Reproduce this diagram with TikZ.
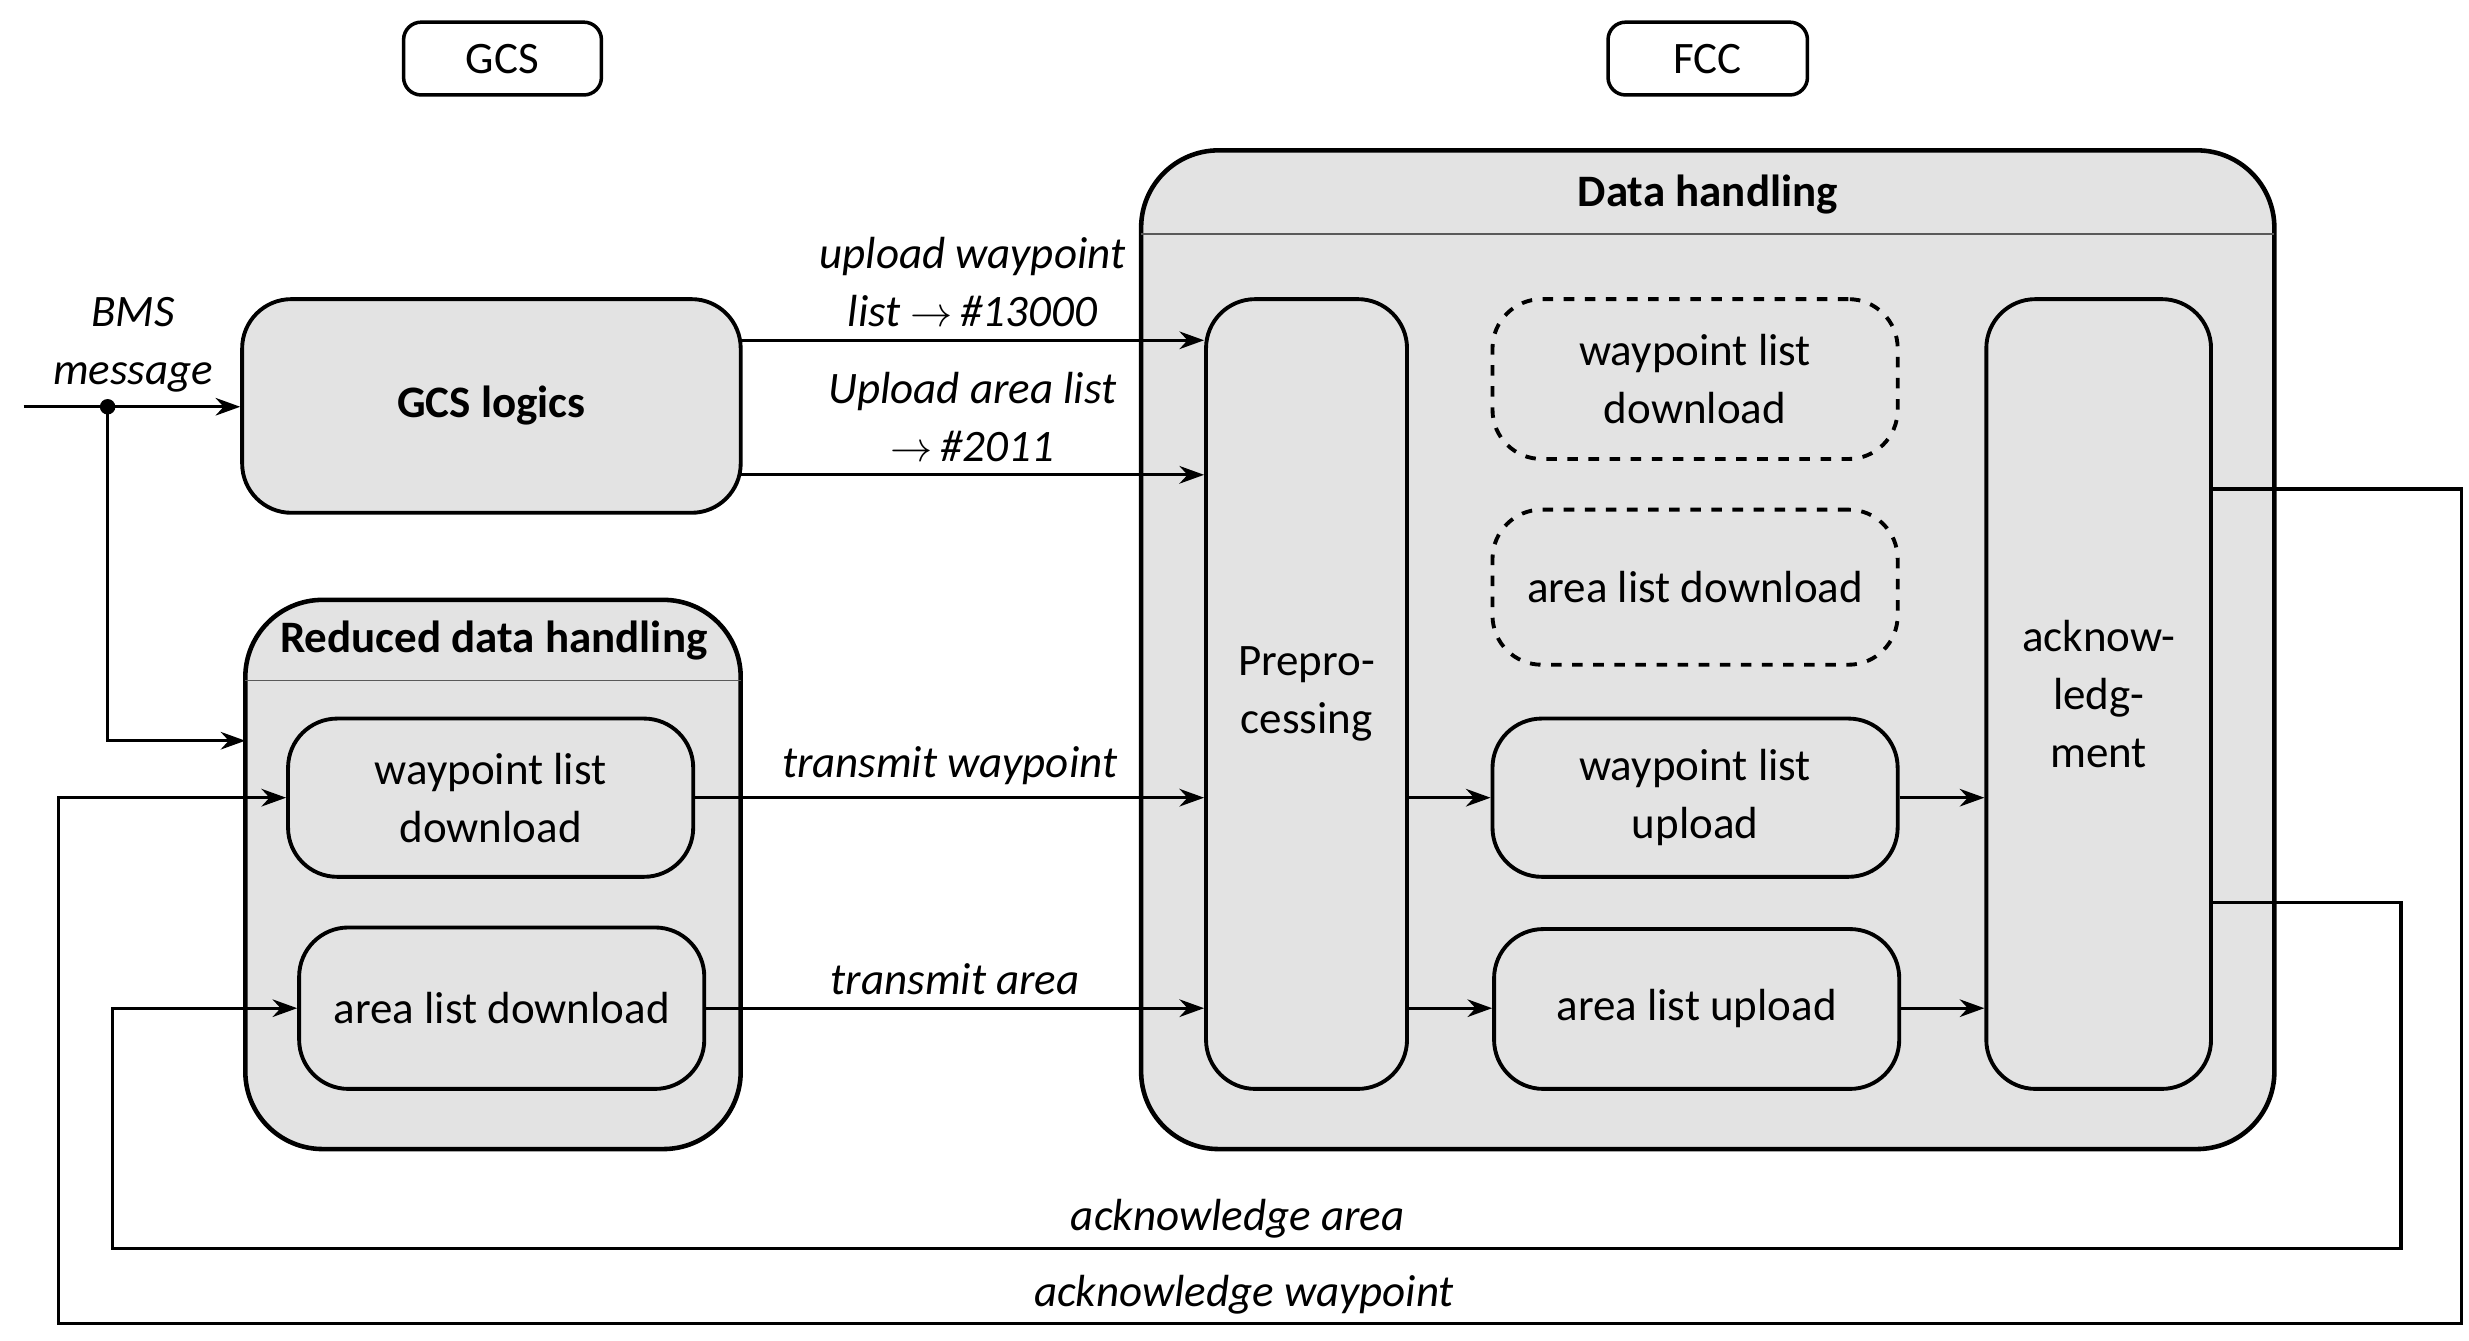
\documentclass[tikz,border=0pt]{standalone}
\usepackage{fontspec}
\setmainfont{Carlito}
\usetikzlibrary{fit,arrows.meta}
\begin{document}
\begin{tikzpicture}[x=0.01583cm,y=-0.01583cm,
  font=\fontsize{12.8pt}{16.5pt}\selectfont,
  txt/.style={label={[align=center,font=\fontsize{12.8pt}{16.5pt}\selectfont]center:#1}},
  btxt/.style={label={[align=center,font=\fontsize{12.8pt}{16.5pt}\selectfont\bfseries]center:#1}},
  box/.style={draw,line width=1.1pt,rounded corners=14pt,fill=gray!22,inner sep=0pt},
  big/.style={draw,line width=1.3pt,rounded corners=22pt,fill=gray!22,inner sep=0pt},
  hdr/.style={draw,line width=1pt,rounded corners=5pt,fill=white,inner sep=0pt},
  dsh/.style={box,dashed},
  arr/.style={-{Stealth[length=7pt,width=5pt]},line width=0.9pt},
  lab/.style={font=\fontsize{12.8pt}{16.5pt}\selectfont\itshape,align=center}]
\useasboundingbox (0,0) rectangle (1560,846.7);
\node[hdr,fit={(255,14)(380,60)},txt=GCS] (gcs) {};
\node[hdr,fit={(1016,14)(1142,60)},txt=FCC] (fcc) {};
\node[big,fit={(721,95)(1437,726)}] (dh) {};
\draw[line width=0.5pt,gray!70!black] (721,148) -- (1437,148);
\node[font=\fontsize{12.8pt}{16.5pt}\selectfont\bfseries] (dht) at (1079,123) {Data handling};
\node[big,fit={(155,379)(468,726)}] (rdh) {};
\draw[line width=0.5pt,gray!70!black] (155,430) -- (468,430);
\node[font=\fontsize{12.8pt}{16.5pt}\selectfont\bfseries] (rdht) at (312,405) {Reduced data handling};
\node[box,fit={(153,189)(468,324)},btxt={GCS logics}] (gl) {};
\node[box,fit={(182,454)(438,554)},txt={waypoint list\\download}] (wld) {};
\node[box,fit={(189,586)(445,688)},txt={area list download}] (ald) {};
\node[box,fit={(762,189)(889,688)},txt={Prepro-\\cessing}] (pre) {};
\node[dsh,fit={(943,189)(1199,290)},txt={waypoint list\\download}] (dwld) {};
\node[dsh,fit={(943,322)(1199,420)},txt={area list download}] (dald) {};
\node[box,fit={(943,454)(1199,554)},txt={waypoint list\\upload}] (wlu) {};
\node[box,fit={(944,587)(1200,688)},txt={area list upload}] (alu) {};
\node[box,fit={(1255,189)(1397,688)},txt={acknow-\\ledg-\\ment}] (ack) {};
\coordinate (in) at (15,257);
\coordinate (dot) at (68,257);
\draw[arr] (in) -- (gl.west |- in);
\fill (dot) circle (2.2pt);
\draw[arr] (dot) |- (155,468);
\node[lab] (bms) at (84,218) {BMS\\message};
\draw[arr] (468,215) -- (pre.west |- 0,215) node[lab,midway,above=0pt] {upload waypoint\\list $\rightarrow$\,\#13000};
\draw[arr] (468,300) -- (pre.west |- 0,300) node[lab,midway,above=0pt] {Upload area list\\$\rightarrow$\,\#2011};
\draw[arr] (wld.east |- 0,504) -- (pre.west |- 0,504) node[lab,midway,above=0pt] {transmit waypoint};
\draw[arr] (ald.east |- 0,637) -- (pre.west |- 0,637) node[lab,midway,above=0pt] {transmit area};
\draw[arr] (pre.east |- 0,504) -- (wlu.west |- 0,504);
\draw[arr] (pre.east |- 0,637) -- (alu.west |- 0,637);
\draw[arr] (wlu.east |- 0,504) -- (ack.west |- 0,504);
\draw[arr] (alu.east |- 0,637) -- (ack.west |- 0,637);
\draw[arr] (ack.east |- 0,570) -- (1517,570) -- (1517,789) -- (71,789) -- (71,637) -- (ald.west |- 0,637);
\node[lab] (aa) at (782,770) {acknowledge area};
\draw[arr] (ack.east |- 0,309) -- (1555,309) -- (1555,836) -- (37,836) -- (37,504) -- (wld.west |- 0,504);
\node[lab] (aw) at (786,818) {acknowledge waypoint};
\end{tikzpicture}
\end{document}
